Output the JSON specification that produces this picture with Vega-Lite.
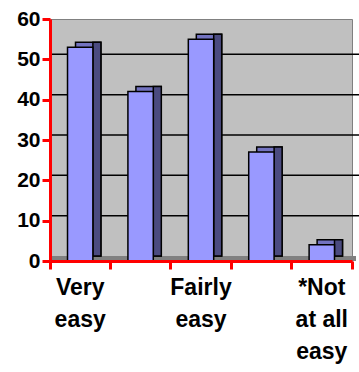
{
  "$schema": "https://vega.github.io/schema/vega-lite/v6.json",
  "width": 302,
  "height": 242,
  "autosize": {"type": "none"},
  "padding": {"left": 50, "top": 19, "right": 7, "bottom": 111},
  "background": "white",
  "config": {
    "view": {"stroke": "#808080", "strokeWidth": 1, "fill": "#c0c0c0"},
    "font": "Liberation Sans"
  },
  "datasets": {
    "answers": [
      {"answer": "Very easy", "percent": 53},
      {"answer": "Quite easy", "percent": 42},
      {"answer": "Fairly easy", "percent": 55},
      {"answer": "Not very easy", "percent": 27},
      {"answer": "*Not at all easy", "percent": 4}
    ],
    "gridlines": [
      {"level": 0}, {"level": 10}, {"level": 20}, {"level": 30}, {"level": 40}, {"level": 50}
    ]
  },
  "layer": [
    {
      "data": {"name": "answers"},
      "mark": {"type": "bar", "width": {"band": 0.42}, "fill": "#9999ff", "stroke": "black", "strokeWidth": 1.5, "opacity": 0},
      "encoding": {
        "x": {
          "field": "answer",
          "type": "nominal",
          "sort": null,
          "scale": {"paddingInner": 0, "paddingOuter": 0},
          "axis": {"title": null, "bandPosition": 1, "tickExtra": true, "zindex": 1, "domainColor": "red", "domainWidth": 3, "tickColor": "red", "tickWidth": 3, "tickSize": 8, "labelAngle": 0, "labelFontSize": 23, "labelFontWeight": "bold", "labelColor": "black", "labelPadding": 7, "labelLineHeight": 32, "labelExpr": "datum.value == 'Very easy' ? ['Very', 'easy'] : datum.value == 'Fairly easy' ? ['Fairly', 'easy'] : datum.value == '*Not at all easy' ? ['*Not', 'at all', 'easy'] : ''"}
        },
        "y": {
          "field": "percent",
          "type": "quantitative",
          "scale": {"domain": [0, 60]},
          "axis": {"title": null, "values": [0, 10, 20, 30, 40, 50, 60], "grid": false, "zindex": 1, "domainColor": "red", "domainWidth": 3, "tickColor": "red", "tickWidth": 3, "tickSize": 8, "labelFontSize": 21, "labelFontWeight": "bold", "labelColor": "black", "labelPadding": 2}
        }
      }
    },
    {
      "data": {"name": "gridlines"},
      "transform": [{"filter": "datum.level == 0"}],
      "mark": {"type": "rule", "xOffset": 4, "yOffset": -2.5, "stroke": "#808080", "strokeWidth": 5},
      "encoding": {
        "y": {"field": "level", "type": "quantitative"}
      }
    },
    {
      "data": {"name": "gridlines"},
      "transform": [{"filter": "datum.level > 0"}],
      "mark": {"type": "rule", "xOffset": 8, "yOffset": -5, "stroke": "black", "strokeWidth": 1.5},
      "encoding": {
        "y": {"field": "level", "type": "quantitative"}
      }
    },
    {
      "data": {"name": "answers"},
      "mark": {"type": "bar", "width": {"band": 0.42}, "xOffset": 8, "yOffset": -5, "fill": "#7373c0", "stroke": "black", "strokeWidth": 1.5},
      "encoding": {
        "x": {"field": "answer", "type": "nominal", "sort": null},
        "y": {"field": "percent", "type": "quantitative"}
      }
    },
    {
      "data": {"name": "answers"},
      "mark": {"type": "bar", "width": 8, "xOffset": 16.7, "yOffset": -5, "fill": "#4b4b80", "stroke": "black", "strokeWidth": 1.5},
      "encoding": {
        "x": {"field": "answer", "type": "nominal", "sort": null},
        "y": {"field": "percent", "type": "quantitative"}
      }
    },
    {
      "data": {"name": "answers"},
      "mark": {"type": "bar", "width": {"band": 0.42}, "fill": "#9999ff", "stroke": "black", "strokeWidth": 1.5},
      "encoding": {
        "x": {"field": "answer", "type": "nominal", "sort": null},
        "y": {"field": "percent", "type": "quantitative"}
      }
    }
  ]
}
